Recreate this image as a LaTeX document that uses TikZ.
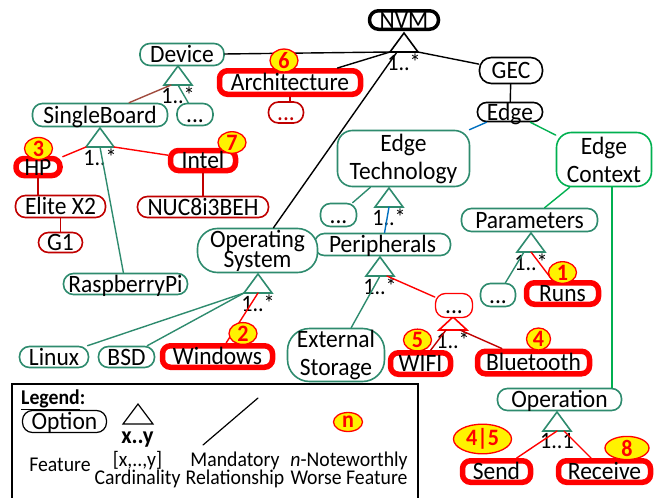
\documentclass[tikz,border=0pt]{standalone}
\usepackage{fontspec}
\setmainfont{Carlito}[FakeStretch=0.94]
\usetikzlibrary{shapes.geometric}
\lineskiplimit=-30pt

\definecolor{fmteal}{RGB}{46,139,110}
\definecolor{ctxgreen}{RGB}{0,176,80}
\definecolor{techblue}{RGB}{0,112,192}
\definecolor{prodred}{RGB}{192,0,0}
\definecolor{linkbrown}{RGB}{160,75,62}

\tikzset{
  sz/.style 2 args={minimum width=#1pt, minimum height=#2pt},
  feat/.style={draw=fmteal, line width=1.6pt, rounded corners=10pt, fill=white,
    inner sep=0pt, font=\fontsize{25}{28}\selectfont,
    text height=16pt, text depth=0pt},
  worse/.style={feat, draw=red, line width=5.5pt, rounded corners=8pt},
  prod/.style={feat, draw=prodred},
  plainf/.style={feat, draw=black},
  twoline/.style={align=center, text height=, text depth=, rounded corners=15pt},
  badge/.style={ellipse, draw=red, line width=1.3pt, fill=yellow, text=red,
    inner sep=0pt, minimum width=28pt, minimum height=21pt,
    font=\fontsize{23.5}{23.5}\selectfont\bfseries},
  card/.style={font=\fontsize{23.5}{24}\selectfont, inner sep=0pt},
  tri/.style={line width=1.6pt, line join=miter},
  conn/.style={line width=1.4pt},
  legtxt/.style={font=\fontsize{21}{18}\selectfont, inner sep=0pt, align=center},
}

% cardinality triangle: [height]{name}{apex x}{apex y}{colour}{label}
\newcommand{\cardtri}[6][19]{%
  \draw[tri, #5] (#3,#4) -- (#3-14,#4+#1) -- (#3+14,#4+#1) -- cycle;
  \coordinate (#2-l) at (#3-14,#4+#1);
  \coordinate (#2-a) at (#3-7,#4+#1);
  \coordinate (#2-m) at (#3,#4+#1);
  \coordinate (#2-b) at (#3+7,#4+#1);
  \coordinate (#2-r) at (#3+14,#4+#1);
  \node[card] (#2-lbl) at (#3,#4+#1+10) {#6};
}

\begin{document}
\begin{tikzpicture}[x=1pt, y=-1pt, line cap=round]
  \useasboundingbox (0,0) rectangle (662,498);

  % features
  \node[plainf, line width=3.5pt, rounded corners=9pt, sz={69}{18.5}] (nvm) at (404,20) {NVM};
  \node[feat, sz={84}{22}] (device) at (182,54.5) {Device};
  \node[feat, sz={135}{23}] (sboard) at (100,115) {SingleBoard};
  \node[feat, sz={36}{22}] (devmore) at (195,114.5) {...};
  \node[worse, sz={44}{17}] (hp) at (38,167) {HP};
  \node[worse, sz={65}{20}] (intel) at (203,160.5) {Intel};
  \node[prod, sz={90}{22}] (elite) at (60.5,206.5) {Elite X2};
  \node[prod, sz={44}{20}] (gone) at (60.5,242.5) {G1};
  \node[prod, sz={131}{21}] (nuc) at (203,207) {NUC8i3BEH};
  \node[feat, sz={124}{21}] (rpi) at (125.5,284) {RaspberryPi};
  \node[worse, sz={141}{23.5}] (arch) at (290,82.5) {Architecture};
  \node[prod, text=prodred, sz={35}{21}] (archmore) at (286,112.5) {...};
  \node[plainf, rounded corners=12pt, sz={63}{26}] (gec) at (511,70.5) {GEC};
  \node[plainf, rounded corners=9pt, sz={65}{19}] (edge) at (510,112) {Edge};
  \node[feat, twoline, sz={132}{56}] (etech) at (403.5,158.5) {Edge\\Technology};
  \node[feat, twoline, draw=ctxgreen, sz={95}{54}] (ectx) at (604,159.5) {Edge\\Context};
  \node[feat, sz={36}{23}] (etmore) at (338.5,215) {...};
  \node[feat, sz={136}{22}] (periph) at (382.5,244.5) {Peripherals};
  \node[feat, twoline, rounded corners=20pt, sz={120}{44},
    font=\fontsize{25}{20}\selectfont] (os) at (257.5,250.5) {Operating\\System};
  \node[feat, sz={69}{21}] (linux) at (54,357) {Linux};
  \node[feat, sz={56}{21}] (bsd) at (126.5,357) {BSD};
  \node[worse, sz={110}{21.5}] (windows) at (217.5,356.5) {Windows};
  \node[feat, twoline, rounded corners=22pt, sz={97}{53}] (extstore) at (336,355) {External\\Storage};
  \cardtri[13]{redtri}{453}{317}{red}{1..*}
  \node[feat, draw=red, line width=1.3pt, sz={37}{24}] (permore) at (454,305.5) {...};
  \node[worse, sz={60}{21.5}] (wifi) at (420.5,363.5) {WIFI};
  \node[worse, sz={112}{22.5}] (bt) at (533.5,362.5) {Bluetooth};
  \node[feat, sz={136}{23}] (params) at (529.5,220) {Parameters};
  \node[feat, sz={35}{23}] (parmore) at (498,295) {...};
  \node[worse, sz={72}{21.5}] (runs) at (562.5,293.5) {Runs};
  \node[feat, sz={124}{22}] (oper) at (559.5,399.5) {Operation};
  \node[worse, sz={68}{21.5}] (send) at (496.5,471.5) {Send};
  \node[worse, sz={92}{21.5}] (receive) at (604.5,471.5) {Receive};

  % cardinalities
  \cardtri{nvmtri}{404}{33}{black}{1..*}
  \cardtri{devtri}{178}{66}{fmteal}{1..*}
  \cardtri{sbtri}{100}{128}{fmteal}{1..*}
  \cardtri{ettri}{389}{188}{fmteal}{1..*}
  \cardtri{pertri}{380}{257}{fmteal}{1..*}
  \cardtri{ostri}{258}{274}{fmteal}{1..*}
  \cardtri{partri}{531}{233}{fmteal}{1..*}
  \cardtri{optri}{557}{412}{fmteal}{1..1}

  % relationships
  \draw[conn] (nvmtri-l) -- (device);
  \draw[conn] (nvmtri-l) -- (arch);
  \draw[conn] (nvmtri-a) -- (os);
  \draw[conn] (nvmtri-r) -- (gec);
  \draw[conn] (gec) -- (edge);
  \draw[conn, techblue] (edge) -- (etech);
  \draw[conn, ctxgreen] (edge) -- (ectx);
  \draw[conn, ctxgreen] (ectx) -- (params);
  \draw[conn, ctxgreen] ([xshift=8pt]ectx.south) -- ([xshift=8pt]ectx.south |- oper.north);
  \draw[conn, techblue] (ettri-m) -- (periph);
  \draw[conn, fmteal] (etech) -- (etmore);
  \draw[conn, fmteal] (pertri-m) -- (extstore);
  \draw[conn, red] (pertri-b) -- (permore);
  \draw[conn, prodred] (redtri-a) -- (wifi);
  \draw[conn, prodred] (redtri-b) -- (bt);
  \draw[conn, fmteal] (ostri-l) -- (linux);
  \draw[conn, fmteal] (ostri-l) -- (bsd);
  \draw[conn, red] (ostri-m) -- (windows);
  \draw[conn, red] (sbtri-l) -- (hp);
  \draw[conn, red] (sbtri-r) -- (intel);
  \draw[conn, fmteal] (sbtri-m) -- (rpi);
  \draw[conn, linkbrown] (devtri-a) -- (sboard);
  \draw[conn, fmteal] (devtri-m) -- (devmore);
  \draw[conn, prodred] (hp.south) -- (hp.south |- elite.north);
  \draw[conn, prodred] (elite.south) -- (elite.south |- gone.north);
  \draw[conn, prodred] (intel) -- (nuc);
  \draw[conn, prodred] (arch.south) -- (arch.south |- archmore.north);
  \draw[conn, fmteal] (partri-a) -- (parmore);
  \draw[conn, red] (partri-m) -- (runs);
  \draw[conn, red] (optri-m) -- (send);
  \draw[conn, red] (optri-b) -- (receive);

  % noteworthy marks
  \node[badge] (b6) at (284,60.5) {6};
  \node[badge] (b3) at (38.5,148.5) {3};
  \node[badge] (b7) at (232,142.5) {7};
  \node[badge] (b2) at (243,333.5) {2};
  \node[badge] (b5) at (417.5,340) {5};
  \node[badge, minimum width=24pt, minimum height=22pt] (b4) at (538.5,339) {4};
  \node[badge] (b1) at (562.5,272.5) {1};
  \node[badge, minimum width=58pt, minimum height=28pt] (b45) at (482.5,439) {4|5};
  \node[badge, minimum width=44pt, minimum height=20pt] (b8) at (627,448) {8};

  % legend
  \draw[line width=2.8pt, line cap=butt] (12,498) -- (12,384) -- (418,384) -- (418,498);
  \node[legtxt, anchor=base west, font=\fontsize{21}{21}\selectfont\bfseries] (legtitle) at (21,404.5) {\underline{Legend}:};
  \node[plainf, line width=1.2pt, sz={84}{22}] (option) at (64.5,421.5) {Option};
  \draw[line width=1.2pt, line join=miter] (138,404) -- (123,424) -- (153,424) -- cycle;
  \node[legtxt, anchor=base, font=\fontsize{24}{24}\selectfont\bfseries] (xylbl) at (137.5,443) {x..y};
  \node[legtxt, anchor=base] (featlbl) at (60,471) {Feature};
  \node[legtxt] (cardlbl) at (137.5,469.5) {[x,..,y]\\Cardinality};
  \draw[line width=1.2pt] (203,445) -- (258,398);
  \node[legtxt] (mandlbl) at (235,469.5) {Mandatory\\Relationship};
  \node[badge, minimum width=29pt, minimum height=19pt] (bn) at (348,422) {n};
  \node[legtxt] (worselbl) at (349,468) {\textit{n}-Noteworthly\\Worse Feature};
\end{tikzpicture}
\end{document}
